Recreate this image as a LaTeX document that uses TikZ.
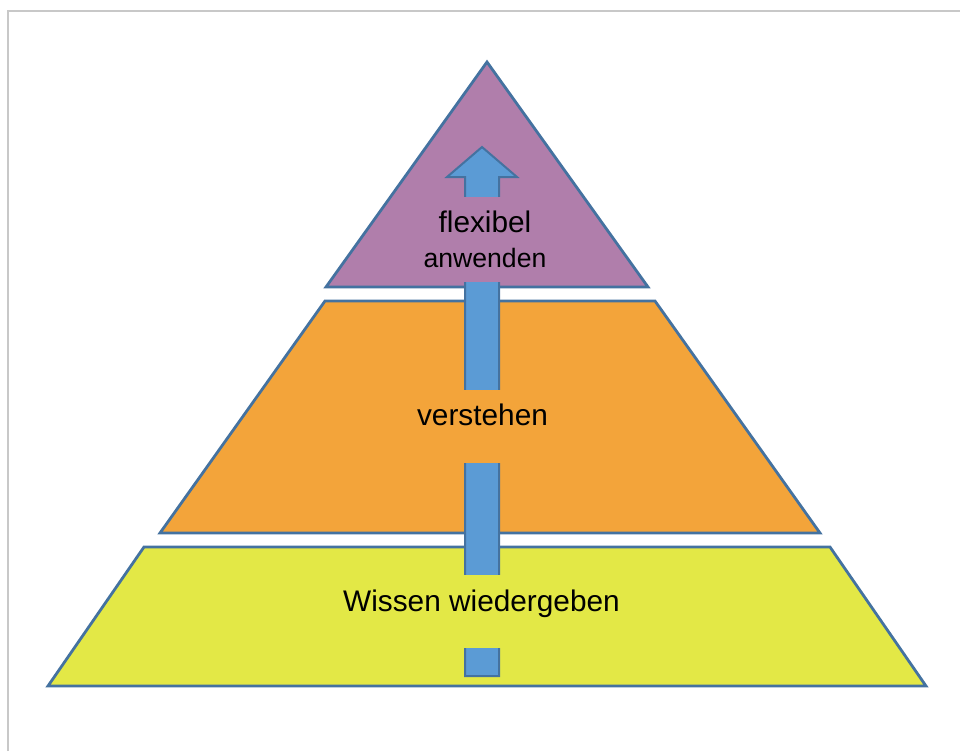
\documentclass[tikz,border=0pt]{standalone}
\usepackage{fontspec}
\setmainfont{Liberation Sans}
\definecolor{edgeblue}{RGB}{68,114,160}
\definecolor{arrowblue}{RGB}{91,155,213}
\definecolor{topviolet}{RGB}{176,126,171}
\definecolor{midorange}{RGB}{243,164,58}
\definecolor{baseyellow}{RGB}{227,232,70}
\definecolor{framegray}{RGB}{200,200,200}

\begin{document}
\begin{tikzpicture}[
x=0.5pt, y=-0.5pt,
    tier/.style={draw=edgeblue, line width=1.4pt, line join=miter},
    tiertext/.style={inner xsep=4pt, inner ysep=0pt, font=\fontsize{14.9}{16.5}\selectfont},
    uparrow/.style={draw=edgeblue, fill=arrowblue, line width=1pt, line join=miter}
]
\useasboundingbox (0,0) rectangle (960,751);

% frame
\draw[framegray, line width=1pt] (7.5,751) -- (7.5,10.7) -- (960,10.7);

% pyramid
\draw[tier, fill=topviolet] (487,62) -- (648,287) -- (326,287) -- cycle;
\draw[tier, fill=midorange] (325,301) -- (655,301) -- (820,533) -- (160,533) -- cycle;
\draw[tier, fill=baseyellow] (144,547) -- (830,547) -- (926,686) -- (48,686) -- cycle;

\draw[uparrow] (465,676) -- (465,177) -- (447,177) -- (482,147)
    -- (517,177) -- (499,177) -- (499,676) -- cycle;

%
\node[tiertext, fill=topviolet, align=center, minimum height=42.5pt] (flex) at (485,239)
    {flexibel\\[1pt]{\fontsize{13.3}{15}\selectfont anwenden}};
\node[tiertext, fill=midorange, anchor=base, text height=17.5pt, text depth=19pt] (verst) at (482.5,425) {verstehen};
\node[tiertext, fill=baseyellow, anchor=base, text height=18pt, text depth=18.5pt] (wissen) at (481.5,611) {Wissen wiedergeben};

\end{tikzpicture}
\end{document}
